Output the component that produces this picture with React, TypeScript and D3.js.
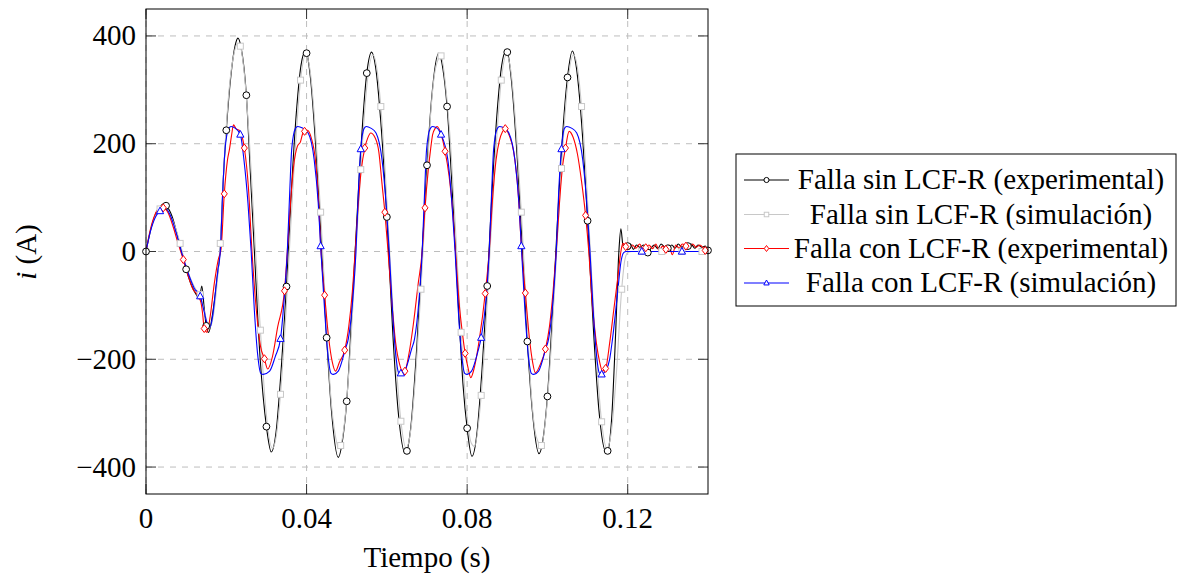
import React from 'react';
import * as d3 from 'd3';

// ---------- data (time in s, current in A) ----------
const xTicks = [0, 0.04, 0.08, 0.12];
const xTickLabels = ['0', '0.04', '0.08', '0.12'];
const yTicks = [-400, -200, 0, 200, 400];
const yTickLabels = ['\u2212400', '\u2212200', '0', '200', '400'];

const seriesNames = [
  'Falla sin LCF-R (experimental)',
  'Falla sin LCF-R (simulación)',
  'Falla con LCF-R (experimental)',
  'Falla con LCF-R (simulación)',
];

// Falla sin LCF-R (experimental): marked samples + extra samples
const sinExpMarks: [number, number][] = [
  [0, 0], [0.005, 85], [0.01, -33], [0.015, -138], [0.02, 225], [0.025, 290], [0.03, -325], [0.035, -65],
  [0.04, 368], [0.045, -160], [0.05, -278], [0.055, 331], [0.06, 64], [0.065, -370], [0.07, 160], [0.075, 269],
  [0.08, -328], [0.085, -64], [0.09, 370], [0.095, -167], [0.1, -269], [0.105, 323], [0.11, 57], [0.115, -370],
  [0.12, 10], [0.125, -2], [0.13, 6], [0.135, 10], [0.14, 2],
];
const sinExpPts: [number, number][] = [
  [0.001, 35], [0.002, 62], [0.0032, 80], [0.0043, 88], [0.0065, 65], [0.008, 25], [0.0114, -64], [0.0126, -81],
  [0.0133, -88], [0.0139, -64], [0.0145, -105], [0.0156, -150], [0.0166, -115], [0.0177, -50], [0.0186, 17],
  [0.0193, 140], [0.0212, 330], [0.0222, 382], [0.0229, 396], [0.0237, 378], [0.026, 146], [0.027, 0],
  [0.0284, -195], [0.0312, -372], [0.0324, -335], [0.0338, -205], [0.0362, 110], [0.0375, 262], [0.0386, 345],
  [0.0396, 370], [0.041, 320], [0.0425, 170], [0.0438, 0], [0.0462, -295], [0.0479, -382], [0.049, -348],
  [0.0512, -125], [0.0521, 0], [0.0532, 150], [0.0562, 370], [0.0572, 342], [0.0585, 240], [0.0615, -155],
  [0.0628, -295], [0.0646, -375], [0.066, -324], [0.0675, -172], [0.0688, 0], [0.0712, 288], [0.0729, 368],
  [0.074, 337], [0.0765, 85], [0.0778, -97], [0.079, -250], [0.0812, -380], [0.0824, -340], [0.0837, -220],
  [0.0862, 110], [0.0875, 262], [0.0886, 345], [0.0896, 371], [0.091, 320], [0.0925, 171], [0.0938, 0],
  [0.0962, -292], [0.0979, -375], [0.099, -343], [0.1012, -125], [0.1021, 0], [0.1032, 150], [0.1062, 372],
  [0.1072, 342], [0.1085, 240], [0.1115, -150], [0.1128, -292], [0.1146, -372], [0.116, -310], [0.117, -150],
  [0.1178, 0], [0.1183, 42], [0.1188, 12], [0.1194, 6], [0.1207, 14], [0.1214, 4], [0.1222, 12], [0.123, 8],
  [0.124, 12], [0.1258, 6], [0.1266, 12], [0.1275, 5], [0.1283, 14], [0.1292, 8], [0.131, 12], [0.1318, 6],
  [0.1326, 14], [0.1335, 8], [0.1342, 12], [0.1358, 14], [0.1367, 6], [0.1375, 12], [0.1385, 8], [0.1393, 10],
];

// Falla sin LCF-R (simulación)
const sinSimMarks: [number, number][] = [
  [0.0035, 79], [0.0085, 15], [0.0135, -80], [0.0185, 15], [0.0235, 381], [0.0285, -146], [0.0335, -265],
  [0.0385, 318], [0.0435, 73], [0.0485, -360], [0.0535, 152], [0.0585, 269], [0.0635, -315], [0.0685, -70],
  [0.0735, 363], [0.0785, -150], [0.0835, -267], [0.0885, 318], [0.0935, 73], [0.0985, -360], [0.1035, 154],
  [0.1085, 269], [0.1135, -316], [0.1185, -70], [0.1235, 0], [0.1285, 0], [0.1335, 0], [0.1385, 0],
];
const sinSimPts: [number, number][] = [
  [0, 0], [0.0012, 42], [0.0023, 66], [0.0046, 83], [0.006, 68], [0.0073, 45], [0.0098, -22], [0.0112, -52],
  [0.0124, -70], [0.0145, -110], [0.0154, -135], [0.016, -140], [0.0168, -118], [0.0177, -60], [0.0195, 170],
  [0.0207, 300], [0.022, 370], [0.0228, 386], [0.0245, 330], [0.0258, 200], [0.0273, 0], [0.0297, -280],
  [0.0315, -365], [0.0325, -340], [0.0347, -134], [0.0357, 0], [0.037, 168], [0.0398, 365], [0.041, 329],
  [0.0423, 215], [0.0447, -98], [0.046, -266], [0.0472, -343], [0.048, -365], [0.0497, -300], [0.051, -171],
  [0.0523, 0], [0.0548, 290], [0.0565, 365], [0.0575, 340], [0.0597, 134], [0.0607, 0], [0.062, -171],
  [0.0648, -365], [0.066, -329], [0.0673, -215], [0.0697, 98], [0.071, 264], [0.0722, 342], [0.0747, 303],
  [0.076, 184], [0.0774, 0], [0.0797, -283], [0.081, -355], [0.0818, -362], [0.0847, -134], [0.0857, 0],
  [0.087, 168], [0.0898, 365], [0.091, 329], [0.0923, 215], [0.0947, -98], [0.096, -266], [0.0972, -343],
  [0.0997, -300], [0.101, -171], [0.1023, 0], [0.1048, 292], [0.1065, 365], [0.1075, 340], [0.1097, 134],
  [0.1107, 0], [0.112, -171], [0.1148, -365], [0.116, -330], [0.1172, -224], [0.1193, -15], [0.12, -2],
  [0.121, 0], [0.14, 0],
];

// Falla con LCF-R (experimental)
const conExpMarks: [number, number][] = [
  [0.0043, 81], [0.0093, -15], [0.0145, -143], [0.0195, 107], [0.0245, 192], [0.0295, -199], [0.0345, -73],
  [0.0395, 223], [0.0445, -81], [0.0495, -183], [0.0545, 192], [0.0595, 73], [0.0645, -222], [0.0695, 81],
  [0.0745, 186], [0.0795, -189], [0.0845, -78], [0.0895, 228], [0.0945, -77], [0.0995, -181], [0.1045, 192],
  [0.1095, 67], [0.1145, -217], [0.1195, 9], [0.1245, 7], [0.1295, 4], [0.1345, 10], [0.1393, 2],
];
const conExpPts: [number, number][] = [
  [0, 0], [0.001, 38], [0.0022, 68], [0.0033, 80], [0.0055, 72], [0.0068, 45], [0.008, 15], [0.0105, -45],
  [0.0117, -70], [0.0128, -80], [0.0137, -95], [0.0141, -115], [0.0152, -150], [0.016, -120], [0.017, -60],
  [0.018, -15], [0.0187, 5], [0.0203, 170], [0.0208, 190], [0.0213, 215], [0.0218, 235], [0.0224, 228],
  [0.0232, 225], [0.0255, 120], [0.0264, 0], [0.0275, -110], [0.0285, -175], [0.0303, -218], [0.0315, -195],
  [0.0328, -140], [0.0352, 0], [0.036, 90], [0.0368, 160], [0.0377, 195], [0.0385, 204], [0.039, 218],
  [0.0402, 225], [0.0412, 210], [0.0422, 170], [0.043, 90], [0.0436, 0], [0.0455, -160], [0.0464, -205],
  [0.0472, -222], [0.0482, -205], [0.0505, -140], [0.0514, -75], [0.0521, 0], [0.0528, 80], [0.0536, 150],
  [0.0552, 210], [0.056, 220], [0.057, 212], [0.058, 185], [0.0588, 125], [0.0603, 0], [0.0612, -90],
  [0.0622, -170], [0.0632, -210], [0.064, -224], [0.0655, -190], [0.0666, -135], [0.0678, -60], [0.0688, 0],
  [0.0703, 150], [0.0709, 190], [0.0714, 217], [0.072, 228], [0.0725, 232], [0.0735, 218], [0.0755, 140],
  [0.0764, 75], [0.0771, 0], [0.078, -95], [0.0788, -150], [0.0802, -215], [0.0809, -234], [0.0818, -215],
  [0.083, -165], [0.0855, 0], [0.0863, 95], [0.0872, 170], [0.088, 205], [0.0888, 222], [0.0905, 215],
  [0.0916, 185], [0.0926, 120], [0.0936, 0], [0.0955, -160], [0.0963, -205], [0.097, -225], [0.0982, -210],
  [0.1005, -140], [0.1014, -75], [0.1022, 0], [0.103, 90], [0.1038, 160], [0.1054, 223], [0.1064, 212],
  [0.1075, 180], [0.1085, 130], [0.1103, 0], [0.1112, -100], [0.1122, -170], [0.113, -205], [0.1137, -222],
  [0.1155, -170], [0.1165, -110], [0.1175, -50], [0.1183, 0], [0.1188, 15], [0.1203, 4], [0.1212, 12],
  [0.122, 6], [0.123, 14], [0.1238, 3], [0.1253, 12], [0.1262, 5], [0.127, 14], [0.1278, 2], [0.1287, 10],
  [0.1303, 12], [0.1311, -6], [0.132, 12], [0.1328, 6], [0.1336, 14], [0.1353, 6], [0.1362, 14], [0.137, 8],
  [0.138, 12], [0.14, 0],
];

// Falla con LCF-R (simulación)
const conSimMarks: [number, number][] = [
  [0.0035, 75], [0.0135, -83], [0.0235, 217], [0.0335, -162], [0.0435, 10], [0.0535, 190], [0.0635, -226],
  [0.0735, 217], [0.0835, -160], [0.0935, 10], [0.1035, 190], [0.1135, -228], [0.1235, 0], [0.1335, 0],
];
const conSimPts: [number, number][] = [
  [0, 0], [0.0012, 40], [0.0025, 66], [0.0046, 82], [0.006, 68], [0.0075, 35], [0.009, -5], [0.0105, -40],
  [0.012, -68], [0.0145, -112], [0.0153, -135], [0.016, -140], [0.0166, -120], [0.0173, -75], [0.0179, -35],
  [0.0185, 0], [0.0191, 110], [0.0197, 190], [0.0206, 228], [0.0212, 232], [0.0222, 229], [0.0244, 170],
  [0.0254, 90], [0.0262, 0], [0.027, -110], [0.0278, -190], [0.0286, -226], [0.0292, -228], [0.0308, -222],
  [0.0322, -195], [0.0344, -90], [0.0352, 0], [0.0358, 110], [0.0363, 190], [0.0372, 228], [0.0378, 232],
  [0.039, 229], [0.0404, 220], [0.0419, 170], [0.0429, 90], [0.0445, -110], [0.0453, -190], [0.0461, -226],
  [0.0467, -228], [0.0479, -222], [0.0497, -180], [0.0504, -162], [0.0515, -90], [0.0523, 0], [0.0529, 110],
  [0.0543, 228], [0.0549, 232], [0.056, 229], [0.0573, 220], [0.0588, 170], [0.0598, 90], [0.0606, 0],
  [0.0614, -110], [0.0622, -190], [0.0629, -224], [0.0644, -222], [0.0662, -180], [0.0669, -162],
  [0.068, -90], [0.0688, 0], [0.0694, 110], [0.0699, 190], [0.0708, 228], [0.0714, 232], [0.0725, 229],
  [0.0752, 170], [0.0762, 90], [0.077, 0], [0.0778, -110], [0.0786, -190], [0.0794, -226], [0.08, -228],
  [0.0811, -222], [0.0827, -185], [0.0847, -90], [0.0855, 0], [0.0861, 110], [0.0866, 190], [0.0875, 228],
  [0.0881, 232], [0.0893, 229], [0.0904, 220], [0.0919, 170], [0.0929, 90], [0.0944, -110], [0.0952, -190],
  [0.096, -226], [0.0966, -228], [0.0978, -222], [0.0996, -180], [0.1003, -162], [0.1014, -90], [0.1022, 0],
  [0.1028, 110], [0.1042, 228], [0.1048, 232], [0.106, 229], [0.1073, 220], [0.1088, 170], [0.1098, 90],
  [0.1106, 0], [0.1114, -110], [0.1122, -190], [0.1129, -225], [0.1144, -222], [0.1155, -200], [0.1162, -163],
  [0.1175, -75], [0.1183, -20], [0.119, -2], [0.1196, 0], [0.14, 0],
];

// ---------- chart ----------
const FONT = "'Liberation Serif', 'Times New Roman', serif";
const FS = 29;

type Shape = 'circle' | 'square' | 'diamond' | 'triangle';

function Marker({ cx, cy, shape, color, s = 1 }: { cx: number; cy: number; shape: Shape; color: string; s?: number }) {
  const common = { fill: 'white', stroke: color, strokeWidth: 1 };
  if (shape === 'circle') return <circle cx={cx} cy={cy} r={3.4 * s} {...common} />;
  if (shape === 'square') return <rect x={cx - 3 * s} y={cy - 3 * s} width={6 * s} height={6 * s} {...common} />;
  if (shape === 'diamond')
    return <polygon points={`${cx},${cy - 4 * s} ${cx + 3 * s},${cy} ${cx},${cy + 4 * s} ${cx - 3 * s},${cy}`} {...common} />;
  return <polygon points={`${cx},${cy - 4 * s} ${cx + 3.6 * s},${cy + 2.6 * s} ${cx - 3.6 * s},${cy + 2.6 * s}`} {...common} />;
}

export default function App() {
  const W = 1185, H = 577;
  const left = 146, right = 708, top = 9, bottom = 494;
  const x = d3.scaleLinear().domain([0, 0.14]).range([left, right]);
  const y = d3.scaleLinear().domain([-450, 450]).range([bottom, top]);

  const line = d3
    .line<[number, number]>()
    .x((d) => x(d[0]))
    .y((d) => y(d[1]))
    .curve(d3.curveMonotoneX);

  const merge = (a: [number, number][], b: [number, number][]) =>
    [...a, ...b].sort((p, q) => p[0] - q[0]);

  const series = [
    { name: seriesNames[0], color: '#000000', shape: 'circle' as Shape, pts: merge(sinExpPts, sinExpMarks), marks: sinExpMarks },
    { name: seriesNames[1], color: '#c8c8c8', shape: 'square' as Shape, pts: merge(sinSimPts, sinSimMarks), marks: sinSimMarks },
    { name: seriesNames[2], color: '#ff0000', shape: 'diamond' as Shape, pts: merge(conExpPts, conExpMarks), marks: conExpMarks },
    { name: seriesNames[3], color: '#0000ff', shape: 'triangle' as Shape, pts: merge(conSimPts, conSimMarks), marks: conSimMarks },
  ];

  const gridColor = '#bdbdbd';
  const tickLen = 10;

  const legX = 736, legY = 154, legW = 440, legH = 152;
  const rowY = [180, 214.5, 248.5, 283];

  return (
    <svg width={W} height={H} style={{ position: 'absolute', left: 0, top: 0, background: 'white' }} fontFamily={FONT}>
      <defs>
        <clipPath id="plotClip">
          <rect x={left} y={top} width={right - left} height={bottom - top} />
        </clipPath>
      </defs>
      <rect x={0} y={0} width={W} height={H} fill="white" />

      {/* grid */}
      {xTicks.map((t, i) => (
        <line key={'gx' + i} x1={x(t)} x2={x(t)} y1={top} y2={bottom} stroke={gridColor} strokeWidth={1} strokeDasharray="6,6" />
      ))}
      {yTicks.map((t, i) => (
        <line key={'gy' + i} x1={left} x2={right} y1={y(t)} y2={y(t)} stroke={gridColor} strokeWidth={1} strokeDasharray="6,6" />
      ))}

      {/* ticks */}
      {xTicks.map((t, i) => (
        <g key={'tx' + i} stroke="#333" strokeWidth={1}>
          <line x1={x(t)} x2={x(t)} y1={bottom} y2={bottom - tickLen} />
          <line x1={x(t)} x2={x(t)} y1={top} y2={top + tickLen} />
        </g>
      ))}
      {yTicks.map((t, i) => (
        <g key={'ty' + i} stroke="#333" strokeWidth={1}>
          <line x1={left} x2={left + tickLen} y1={y(t)} y2={y(t)} />
          <line x1={right} x2={right - tickLen} y1={y(t)} y2={y(t)} />
        </g>
      ))}

      {/* series */}
      <g clipPath="url(#plotClip)">
        {series.map((s, si) => (
          <g key={'s' + si}>
            <path d={line(s.pts) || ''} fill="none" stroke={s.color} strokeWidth={1.1} strokeLinejoin="round" />
          </g>
        ))}
      </g>
      {series.map((s, si) => (
        <g key={'m' + si}>
          {s.marks.map((m, mi) => (
            <Marker key={mi} cx={x(m[0])} cy={y(m[1])} shape={s.shape} color={s.color} />
          ))}
        </g>
      ))}

      {/* frame */}
      <rect x={left} y={top} width={right - left} height={bottom - top} fill="none" stroke="#000" strokeWidth={1} />

      {/* tick labels */}
      {xTicks.map((t, i) => (
        <text key={'lx' + i} x={x(t)} y={528} textAnchor="middle" fontSize={FS} fill="#000">
          {xTickLabels[i]}
        </text>
      ))}
      {yTicks.map((t, i) => (
        <text key={'ly' + i} x={136} y={y(t) + 9.5} textAnchor="end" fontSize={FS} fill="#000">
          {yTickLabels[i]}
        </text>
      ))}

      {/* axis labels */}
      <text x={(left + right) / 2} y={567} textAnchor="middle" fontSize={FS} fill="#000">
        Tiempo (s)
      </text>
      <text x={36} y={252} textAnchor="middle" fontSize={FS} fill="#000" transform="rotate(-90 36 252)">
        <tspan fontStyle="italic">i</tspan> (A)
      </text>

      {/* legend */}
      <rect x={legX} y={legY} width={legW} height={legH} fill="white" stroke="#000" strokeWidth={1} />
      {series.map((s, si) => (
        <g key={'lg' + si}>
          <line x1={744} x2={789} y1={rowY[si]} y2={rowY[si]} stroke={s.color} strokeWidth={1.1} />
          <Marker cx={766.5} cy={rowY[si]} shape={s.shape} color={s.color} s={0.75} />
          <text x={981} y={rowY[si] + 9} textAnchor="middle" fontSize={FS} fill="#000">
            {s.name}
          </text>
        </g>
      ))}
    </svg>
  );
}
